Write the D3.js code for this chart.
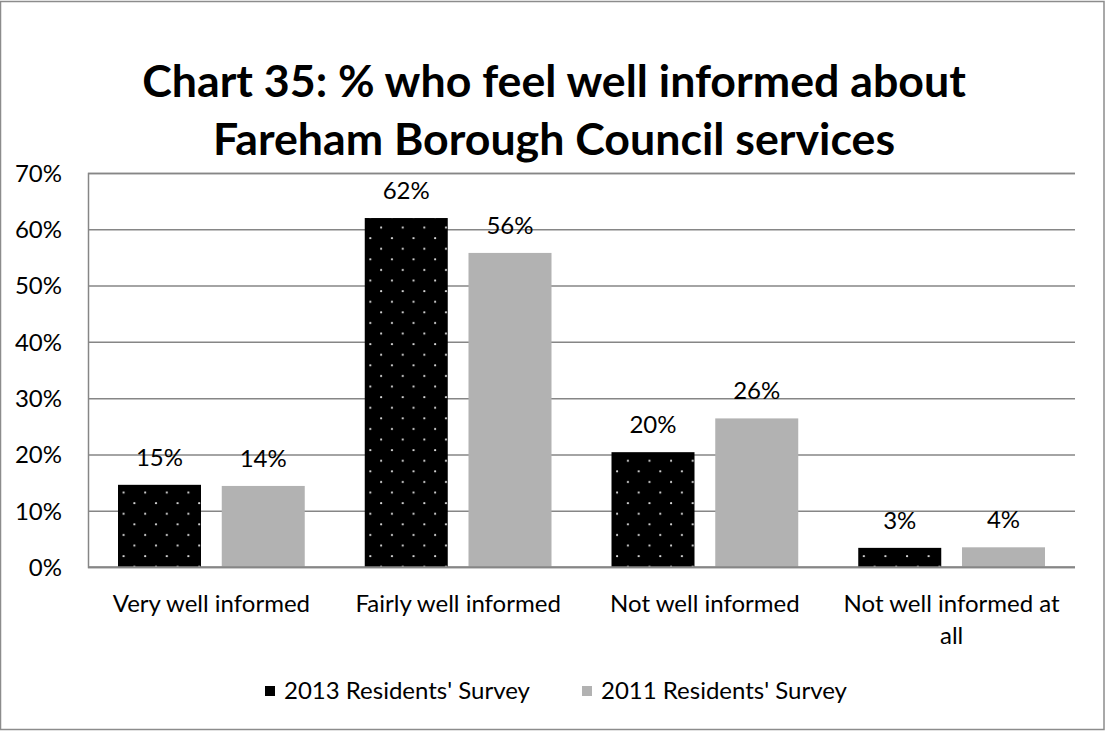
<!DOCTYPE html>
<html>
<head>
<meta charset="utf-8">
<script src="https://cdn.jsdelivr.net/npm/d3@7"></script>
<style>
  html, body { margin: 0; padding: 0; background: #fff; }
  svg { display: block; }
  text { font-family: Lato, "Open Sans", sans-serif; fill: #000; }
</style>
</head>
<body>
<svg id="chart" width="1105" height="731"></svg>
<script>
// ---- data ----
const categories = ["Very well informed", "Fairly well informed", "Not well informed", "Not well informed at all"];
const seriesNames = ["2013 Residents' Survey", "2011 Residents' Survey"];
const values2013 = [0.146, 0.620, 0.204, 0.034];
const values2011 = [0.144, 0.558, 0.264, 0.035];
const labels2013 = ["15%", "62%", "20%", "3%"];
const labels2011 = ["14%", "56%", "26%", "4%"];
const yTicks = [0, 0.1, 0.2, 0.3, 0.4, 0.5, 0.6, 0.7];
const titleLines = ["Chart 35: % who feel well informed about", "Fareham Borough Council services"];

// ---- layout ----
const W = 1105, H = 731;
const plot = { left: 88, right: 1075, top: 173, bottom: 567 };
const fs = 24;
const svg = d3.select("#chart");

svg.append("rect").attr("x", 0).attr("y", 0).attr("width", W).attr("height", H).attr("fill", "#fff");
svg.append("rect").attr("x", 0.5).attr("y", 1.5).attr("width", W - 1.5).attr("height", H - 3)
  .attr("fill", "none").attr("stroke", "#8c8c8c").attr("stroke-width", 1.5);

// pattern for 2013 series
const defs = svg.append("defs");
const pat = defs.append("pattern").attr("id", "dots").attr("patternUnits", "userSpaceOnUse")
  .attr("width", 21.6).attr("height", 21.2).attr("x", 118).attr("y", 0);
pat.append("rect").attr("width", 21.6).attr("height", 21.2).attr("fill", "#000");
pat.append("circle").attr("cx", 4).attr("cy", 5).attr("r", 1.1).attr("fill", "#d8d8d8");
pat.append("circle").attr("cx", 14.8).attr("cy", 15.6).attr("r", 1.1).attr("fill", "#d8d8d8");

// title
const title = svg.append("g");
const titleY = [97, 155];
titleLines.forEach((t, i) => {
  title.append("text").attr("x", 554).attr("y", titleY[i]).attr("text-anchor", "middle")
    .attr("font-weight", "bold").attr("font-size", 44.7).text(t);
});

// scales
const y = d3.scaleLinear().domain([0, 0.7]).range([plot.bottom, plot.top]);
const x0 = d3.scaleBand().domain(categories).range([plot.left, plot.right]).paddingInner(0).paddingOuter(0);
const inner = 30;
const x1 = d3.scaleBand().domain(seriesNames).range([inner, x0.bandwidth() - inner]).paddingInner(0.2).paddingOuter(0);

// gridlines + y axis
const yAxis = d3.axisLeft(y).tickValues(yTicks).tickSize(-(plot.right - plot.left)).tickPadding(26)
  .tickFormat(d3.format(".0%"));
const gy = svg.append("g").attr("transform", `translate(${plot.left},0)`).call(yAxis);
gy.select(".domain").attr("stroke", "#868686").attr("stroke-width", 1.5);
gy.selectAll(".tick line").attr("stroke", "#868686").attr("stroke-width", 1.5);
gy.selectAll(".tick text").attr("font-size", fs).attr("font-family", "Lato").attr("fill", "#000")
  .attr("dy", "0.35em");

// bars
const data = categories.map((c, i) => ({
  cat: c,
  vals: [
    { s: seriesNames[0], v: values2013[i], label: labels2013[i] },
    { s: seriesNames[1], v: values2011[i], label: labels2011[i] }
  ]
}));
const fills = { [seriesNames[0]]: "url(#dots)", [seriesNames[1]]: "#b2b2b2" };

const groups = svg.append("g").selectAll("g").data(data).join("g")
  .attr("transform", d => `translate(${x0(d.cat)},0)`);
groups.selectAll("rect").data(d => d.vals).join("rect")
  .attr("x", d => x1(d.s)).attr("y", d => y(d.v))
  .attr("width", x1.bandwidth()).attr("height", d => y(0) - y(d.v))
  .attr("fill", d => fills[d.s]);
groups.selectAll("text.lbl").data(d => d.vals).join("text").attr("class", "lbl")
  .attr("x", d => x1(d.s) + x1.bandwidth() / 2).attr("y", d => y(d.v) - 19)
  .attr("text-anchor", "middle").attr("font-size", fs).text(d => d.label);

// x axis line
svg.append("line").attr("x1", plot.left).attr("x2", plot.right).attr("y1", y(0)).attr("y2", y(0))
  .attr("stroke", "#868686").attr("stroke-width", 1.5);

// category labels (wrap to band width)
const catG = svg.append("g");
categories.forEach(c => {
  const cx = x0(c) + x0.bandwidth() / 2;
  const t = catG.append("text").attr("x", cx).attr("y", 612).attr("text-anchor", "middle").attr("font-size", fs);
  const words = c.split(" ");
  let line = [];
  let tspan = t.append("tspan").attr("x", cx).attr("dy", 0);
  words.forEach(w => {
    line.push(w);
    tspan.text(line.join(" "));
    if (tspan.node().getComputedTextLength() > x0.bandwidth() - 20 && line.length > 1) {
      line.pop();
      tspan.text(line.join(" "));
      line = [w];
      tspan = t.append("tspan").attr("x", cx).attr("dy", 32).text(w);
    }
  });
});

// legend
const legend = svg.append("g");
const legX = [265, 582];
seriesNames.forEach((s, i) => {
  legend.append("rect").attr("x", legX[i]).attr("y", 686).attr("width", 10).attr("height", 10)
    .attr("fill", i === 0 ? "#000" : "#b2b2b2");
  legend.append("text").attr("x", legX[i] + 19).attr("y", 699).attr("font-size", fs).text(s);
});
</script>
</body>
</html>
